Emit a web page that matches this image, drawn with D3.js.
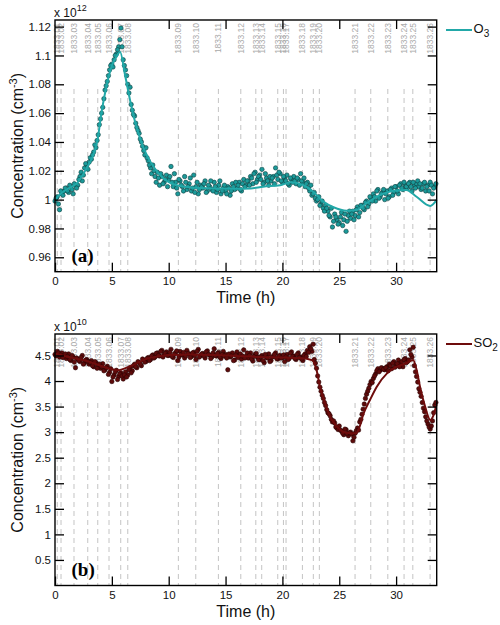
<!DOCTYPE html>
<html><head><meta charset="utf-8">
<script src="https://cdn.jsdelivr.net/npm/d3@7"></script>
<style>body{margin:0;background:#fff} svg{display:block}</style>
</head><body><svg id="c" width="500" height="625"></svg>
<script>
// ---------- data ----------
const xTicks = [0,5,10,15,20,25,30];
const o3YTicks = [0.96,0.98,1,1.02,1.04,1.06,1.08,1.1,1.12];
const so2YTicks = [0.5,1,1.5,2,2.5,3,3.5,4,4.5];

const eventLabels = ["1833.01","1833.02","1833.03","1833.04","1833.05","1833.06","1833.07","1833.08",
  "1833.09","1833.10","1833.11","1833.12","1833.13","1833.14","1833.15","1833.16","1833.17","1833.18",
  "1833.19","1833.20","1833.21","1833.22","1833.23","1833.24","1833.25","1833.26"];
const eventTimes = [0.2,0.53,1.67,2.88,3.76,4.75,5.78,6.4,10.85,12.38,14.37,16.34,17.66,18.18,
  19.59,20.09,20.32,21.76,22.72,23.25,26.39,27.77,29.27,30.7,31.47,32.99];

// samples: set A at t = 0, 0.2, 0.4 ... ; set B at t = 0.1, 0.3, 0.5 ... (hours)
const sampleStartA = 0, sampleStartB = 0.1, sampleStep = 0.2;

// O3 measurements (x 10^12 cm^-3)
const o3ValuesA = [
 0.999,1.002,0.993,1.004,1.006, 1.008,1.005,1.009,1.004,1.010,
 1.010,1.016,1.013,1.022,1.024, 1.026,1.028,1.033,1.036,1.045,
 1.056,1.064,1.076,1.082,1.090, 1.094,1.097,1.101,1.106,1.119,
 1.097,1.090,1.080,1.078,1.062, 1.058,1.050,1.046,1.040,1.034,
 1.036,1.027,1.022,1.024,1.016, 1.019,1.010,1.016,1.012,1.017,
 1.014,1.023,1.009,1.012,1.004, 1.013,1.009,1.016,1.007,1.011,
 1.006,1.017,1.009,1.004,1.010, 1.008,1.013,1.006,1.009,1.007,
 1.012,1.005,1.010,1.004,1.008, 1.006,1.009,1.003,1.011,1.007,
 1.008,1.012,1.006,1.014,1.010, 1.013,1.016,1.011,1.019,1.014,
 1.017,1.021,1.012,1.015,1.010, 1.013,1.016,1.022,1.014,1.018,
 1.012,1.015,1.017,1.010,1.014, 1.016,1.011,1.014,1.018,1.012,
 1.009,1.012,1.006,1.003,1.005, 0.999,1.002,0.997,0.994,0.996,
 0.992,0.988,0.981,0.990,0.986, 0.984,0.991,0.986,0.978,0.989,
 0.987,0.992,0.989,0.995,0.991, 0.996,0.993,0.999,0.997,1.001,
 1.004,0.999,1.007,1.002,1.005, 1.000,1.006,1.002,1.008,1.005,
 1.009,1.004,1.011,1.007,1.010, 1.008,1.012,1.006,1.010,1.011,
 1.009,1.007,1.011,1.006,1.010, 1.012,1.004,1.009
];
const o3ValuesB = [
 1.001,0.997,1.006,1.003,1.008, 1.006,1.010,1.007,1.011,1.008,
 1.014,1.019,1.017,1.025,1.021, 1.029,1.031,1.038,1.041,1.052,
 1.060,1.070,1.079,1.086,1.093, 1.092,1.100,1.104,1.111,1.106,
 1.093,1.086,1.074,1.066,1.059, 1.053,1.048,1.042,1.037,1.031,
 1.029,1.024,1.018,1.020,1.012, 1.015,1.018,1.011,1.014,1.009,
 1.016,1.012,1.018,1.008,1.014, 1.010,1.006,1.012,1.009,1.015,
 1.008,1.005,1.012,1.007,1.009, 1.011,1.005,1.010,1.013,1.006,
 1.009,1.007,1.013,1.006,1.010, 1.004,1.008,1.006,1.009,1.012,
 1.010,1.007,1.011,1.009,1.013, 1.010,1.015,1.018,1.012,1.016,
 1.014,1.011,1.018,1.013,1.016, 1.015,1.011,1.017,1.019,1.013,
 1.016,1.013,1.011,1.015,1.012, 1.013,1.015,1.010,1.013,1.015,
 1.011,1.008,1.010,1.004,1.001, 1.000,0.996,0.999,0.992,0.994,
 0.989,0.994,0.985,0.988,0.983, 0.988,0.982,0.990,0.985,0.992,
 0.990,0.986,0.993,0.988,0.996, 0.994,0.998,0.995,1.002,0.999,
 1.002,1.006,1.001,1.004,1.007, 1.004,1.001,1.007,1.003,1.009,
 1.006,1.010,1.008,1.012,1.009, 1.011,1.009,1.012,1.008,1.013,
 1.011,1.008,1.012,1.009,1.006, 1.010,1.008,1.011
];
// SO2 measurements (x 10^10 cm^-3)
const so2ValuesA = [
 4.52,4.58,4.47,4.55,4.49, 4.44,4.53,4.40,4.47,4.26,
 4.43,4.38,4.50,4.36,4.42, 4.33,4.40,4.28,4.36,4.31,
 4.25,4.34,4.22,4.29,4.17, 3.99,4.12,4.21,4.09,4.16,
 4.04,4.18,4.12,4.26,4.20, 4.33,4.26,4.36,4.30,4.41,
 4.38,4.46,4.42,4.51,4.47, 4.55,4.49,4.60,4.52,4.57,
 4.50,4.62,4.46,4.55,4.40, 4.58,4.51,4.45,4.60,4.53,
 4.48,4.56,4.42,4.62,4.50, 4.54,4.45,4.59,4.51,4.47,
 4.63,4.49,4.56,4.44,4.58, 4.52,4.22,4.47,4.55,4.41,
 4.57,4.50,4.43,4.61,4.48, 4.45,4.55,4.39,4.52,4.47,
 4.42,4.50,4.36,4.46,4.53, 4.40,4.48,4.55,4.43,4.50,
 4.46,4.38,4.52,4.44,4.57, 4.49,4.42,4.55,4.47,4.40,
 4.53,4.60,4.67,4.58,4.42, 4.25,3.98,3.80,3.66,3.52,
 3.38,3.32,3.20,3.18,3.08, 3.12,3.02,2.95,3.05,2.93,
 3.00,2.83,2.98,3.08,3.20, 3.35,3.55,3.74,3.86,3.99,
 4.05,4.14,4.24,4.21,4.25, 4.22,4.28,4.33,4.24,4.38,
 4.30,4.41,4.35,4.28,4.44, 4.38,4.61,4.47,4.30,4.09,
 3.85,3.70,3.47,3.30,3.16, 3.06,3.22,3.53
];
const so2ValuesB = [
 4.49,4.55,4.51,4.46,4.53, 4.48,4.42,4.50,4.37,4.45,
 4.40,4.46,4.33,4.41,4.38, 4.36,4.30,4.38,4.25,4.33,
 4.28,4.20,4.26,4.13,4.24, 4.08,4.18,4.03,4.14,4.10,
 4.12,4.08,4.22,4.16,4.30, 4.28,4.38,4.33,4.43,4.37,
 4.44,4.40,4.49,4.45,4.54, 4.50,4.58,4.47,4.54,4.50,
 4.56,4.48,4.53,4.59,4.47, 4.52,4.56,4.49,4.54,4.46,
 4.55,4.50,4.58,4.47,4.53, 4.49,4.57,4.52,4.44,4.55,
 4.50,4.54,4.47,4.52,4.49, 4.45,4.53,4.49,4.40,4.51,
 4.46,4.53,4.49,4.45,4.55, 4.50,4.43,4.48,4.54,4.42,
 4.47,4.40,4.52,4.45,4.38, 4.47,4.52,4.44,4.49,4.45,
 4.51,4.47,4.42,4.54,4.48, 4.44,4.52,4.46,4.43,4.50,
 4.48,4.56,4.63,4.72,4.35, 4.10,3.88,3.72,3.58,3.44,
 3.36,3.25,3.22,3.10,3.05, 3.04,2.98,3.06,2.97,2.99,
 2.96,2.90,3.03,3.04,3.25, 3.45,3.66,3.80,3.93,3.97,
 4.10,4.20,4.18,4.26,4.23, 4.26,4.20,4.30,4.35,4.27,
 4.34,4.28,4.38,4.42,4.36, 4.41,4.52,4.66,4.18,3.98,
 3.78,3.58,3.40,3.22,3.10, 3.12,3.38,3.58
];

// fitted curves
const o3FitT = [0,0.5,1,1.5,2,2.5,3,3.5,3.75,4.1,4.55,5.0,5.4,5.72,6.16,6.6,7.04,7.5,8.06,8.65,9.5,10.7,12.8,15.5,17.2,18.3,19.8,20.7,21.85,22.7,23.6,24.5,25.65,26.5,27.4,28.6,29.8,30.9,31.8,33.0,33.57];
const o3FitV = [1.000,1.004,1.007,1.009,1.012,1.018,1.025,1.034,1.042,1.061,1.0795,1.093,1.099,1.1025,1.0865,1.069,1.054,1.042,1.031,1.023,1.015,1.010,1.008,1.0075,1.0078,1.009,1.010,1.012,1.010,1.0055,0.9986,0.9947,0.9923,0.9928,0.9975,1.0032,1.0062,1.0067,1.002,0.9956,0.9998];
const so2FitT = [0,1,2,3,4,5,5.5,6.5,7.5,8,9,10,12,14,16,18,20,21.6,22.6,23.0,23.3,23.75,24.2,24.8,25.6,26.5,26.8,27.1,27.7,28.3,29.2,30.06,30.9,31.5,31.8,32.1,32.55,33.0,33.3,33.55];
const so2FitV = [4.54,4.48,4.43,4.38,4.30,4.23,4.21,4.28,4.38,4.43,4.48,4.51,4.52,4.51,4.49,4.47,4.46,4.45,4.41,4.22,3.89,3.57,3.30,3.11,2.99,2.98,3.11,3.34,3.63,3.89,4.15,4.28,4.35,4.41,4.22,3.89,3.50,3.24,3.34,3.53];

// ---------- drawing ----------
const svg = d3.select("#c");
const L = 55, R = 436.7;
const x = d3.scaleLinear().domain([0, 33.57]).range([L, R]);
const fontFam = "Liberation Sans, Arial, Helvetica, sans-serif";

const panels = [
  {top:20, bottom:271.7, domain:[0.95,1.1246], ticks:o3YTicks, sets:[[sampleStartA,o3ValuesA],[sampleStartB,o3ValuesB]],
   fitT:o3FitT, fitV:o3FitV, exp:"12", tag:"(a)", fill:"#1b9a9a", stroke:"#0d3f3f", line:"#22a8a8", name:"O", sub:"3"},
  {top:334, bottom:585.5, domain:[0,4.92], ticks:so2YTicks, sets:[[sampleStartA,so2ValuesA],[sampleStartB,so2ValuesB]],
   fitT:so2FitT, fitV:so2FitV, exp:"10", tag:"(b)", fill:"#5e0b0b", stroke:"#2a0404", line:"#6e0c0c", name:"SO", sub:"2"}
];

const fmt = d => d3.format("~g")(d);

panels.forEach(p => {
  const y = d3.scaleLinear().domain(p.domain).range([p.bottom, p.top]);
  const g = svg.append("g");

  // event dashed lines
  g.selectAll("line.ev").data(eventTimes).enter().append("line")
    .attr("x1", d => x(d)).attr("x2", d => x(d))
    .attr("y1", p.top + 69).attr("y2", p.bottom)
    .attr("stroke", "#c4c4c4").attr("stroke-width", 1).attr("stroke-dasharray", "5,4");
  // event labels
  g.selectAll("text.ev").data(eventTimes).enter().append("text")
    .attr("transform", d => `translate(${x(d)+3},${p.top+3}) rotate(-90)`)
    .attr("text-anchor", "end")
    .attr("font-family", fontFam).attr("font-size", 8.5)
    .attr("fill", "#a9a9a9")
    .text((d, i) => eventLabels[i]);

  // scatter
  p.sets.forEach(([t0, vals]) => {
    g.append("g").selectAll("circle").data(vals).enter().append("circle")
      .attr("cx", (d, i) => x(t0 + i * sampleStep))
      .attr("cy", d => y(d))
      .attr("r", 2.2)
      .attr("fill", p.fill).attr("stroke", p.stroke).attr("stroke-width", 0.6);
  });

  // fit line
  const fit = p.fitT.map((t, i) => [t, p.fitV[i]]);
  g.append("path").datum(fit)
    .attr("d", d3.line().x(d => x(d[0])).y(d => y(d[1])).curve(d3.curveMonotoneX))
    .attr("fill", "none").attr("stroke", p.line).attr("stroke-width", 2);

  // axes
  const ax = (sel) => { sel.selectAll(".domain").remove(); sel.selectAll(".tick line").attr("stroke","#000").attr("stroke-width",1.3);
    sel.selectAll("text").attr("font-family", fontFam).attr("font-size", 11.5).attr("fill","#111"); };
  g.append("g").attr("transform", `translate(${L},0)`)
    .call(d3.axisLeft(y).tickValues(p.ticks).tickFormat(fmt).tickSizeInner(-9).tickSizeOuter(0).tickPadding(4)).call(ax);
  g.append("g").attr("transform", `translate(${R},0)`)
    .call(d3.axisRight(y).tickValues(p.ticks).tickFormat("").tickSizeInner(-9).tickSizeOuter(0)).call(ax);
  g.append("g").attr("transform", `translate(0,${p.bottom})`)
    .call(d3.axisBottom(x).tickValues(xTicks).tickFormat(fmt).tickSizeInner(-9).tickSizeOuter(0).tickPadding(5)).call(ax);
  g.append("g").attr("transform", `translate(0,${p.top})`)
    .call(d3.axisTop(x).tickValues(xTicks.slice(1)).tickFormat("").tickSizeInner(-9).tickSizeOuter(0)).call(ax);

  g.append("rect").attr("x", L).attr("y", p.top).attr("width", R - L).attr("height", p.bottom - p.top)
    .attr("fill", "none").attr("stroke", "#000").attr("stroke-width", 1.4);

  // exponent label
  const ex = g.append("text").attr("x", L - 1).attr("y", p.top - 3.5)
    .attr("font-family", fontFam).attr("font-size", 12).attr("fill", "#111");
  ex.append("tspan").text("x 10");
  ex.append("tspan").attr("dy", -6).attr("font-size", 9).text(p.exp);

  // panel tag
  g.append("text").attr("x", 71.5).attr("y", p.bottom - 9.5)
    .attr("font-family", "Liberation Serif, Times New Roman, serif").attr("font-weight", "bold")
    .attr("font-size", 19).attr("fill", "#000").text(p.tag);

  // y title
  const yt = g.append("text")
    .attr("transform", `translate(23,${(p.top + p.bottom) / 2}) rotate(-90)`)
    .attr("text-anchor", "middle").attr("font-family", fontFam).attr("font-size", 16).attr("fill", "#111");
  yt.append("tspan").text("Concentration (cm");
  yt.append("tspan").attr("dy", -6).attr("font-size", 11).text("-3");
  yt.append("tspan").attr("dy", 6).text(")");

  // x title
  g.append("text").attr("x", (L + R) / 2).attr("y", p.bottom + 31)
    .attr("text-anchor", "middle").attr("font-family", fontFam).attr("font-size", 16).attr("fill", "#111")
    .text("Time (h)");

  // legend
  g.append("line").attr("x1", 446).attr("x2", 472).attr("y1", p.top + 10).attr("y2", p.top + 10)
    .attr("stroke", p.line).attr("stroke-width", 2);
  const lt = g.append("text").attr("x", 473.5).attr("y", p.top + 13)
    .attr("font-family", fontFam).attr("font-size", 13).attr("fill", "#111");
  lt.append("tspan").text(p.name);
  lt.append("tspan").attr("dy", 4).attr("font-size", 10).text(p.sub);
});
</script></body></html>
